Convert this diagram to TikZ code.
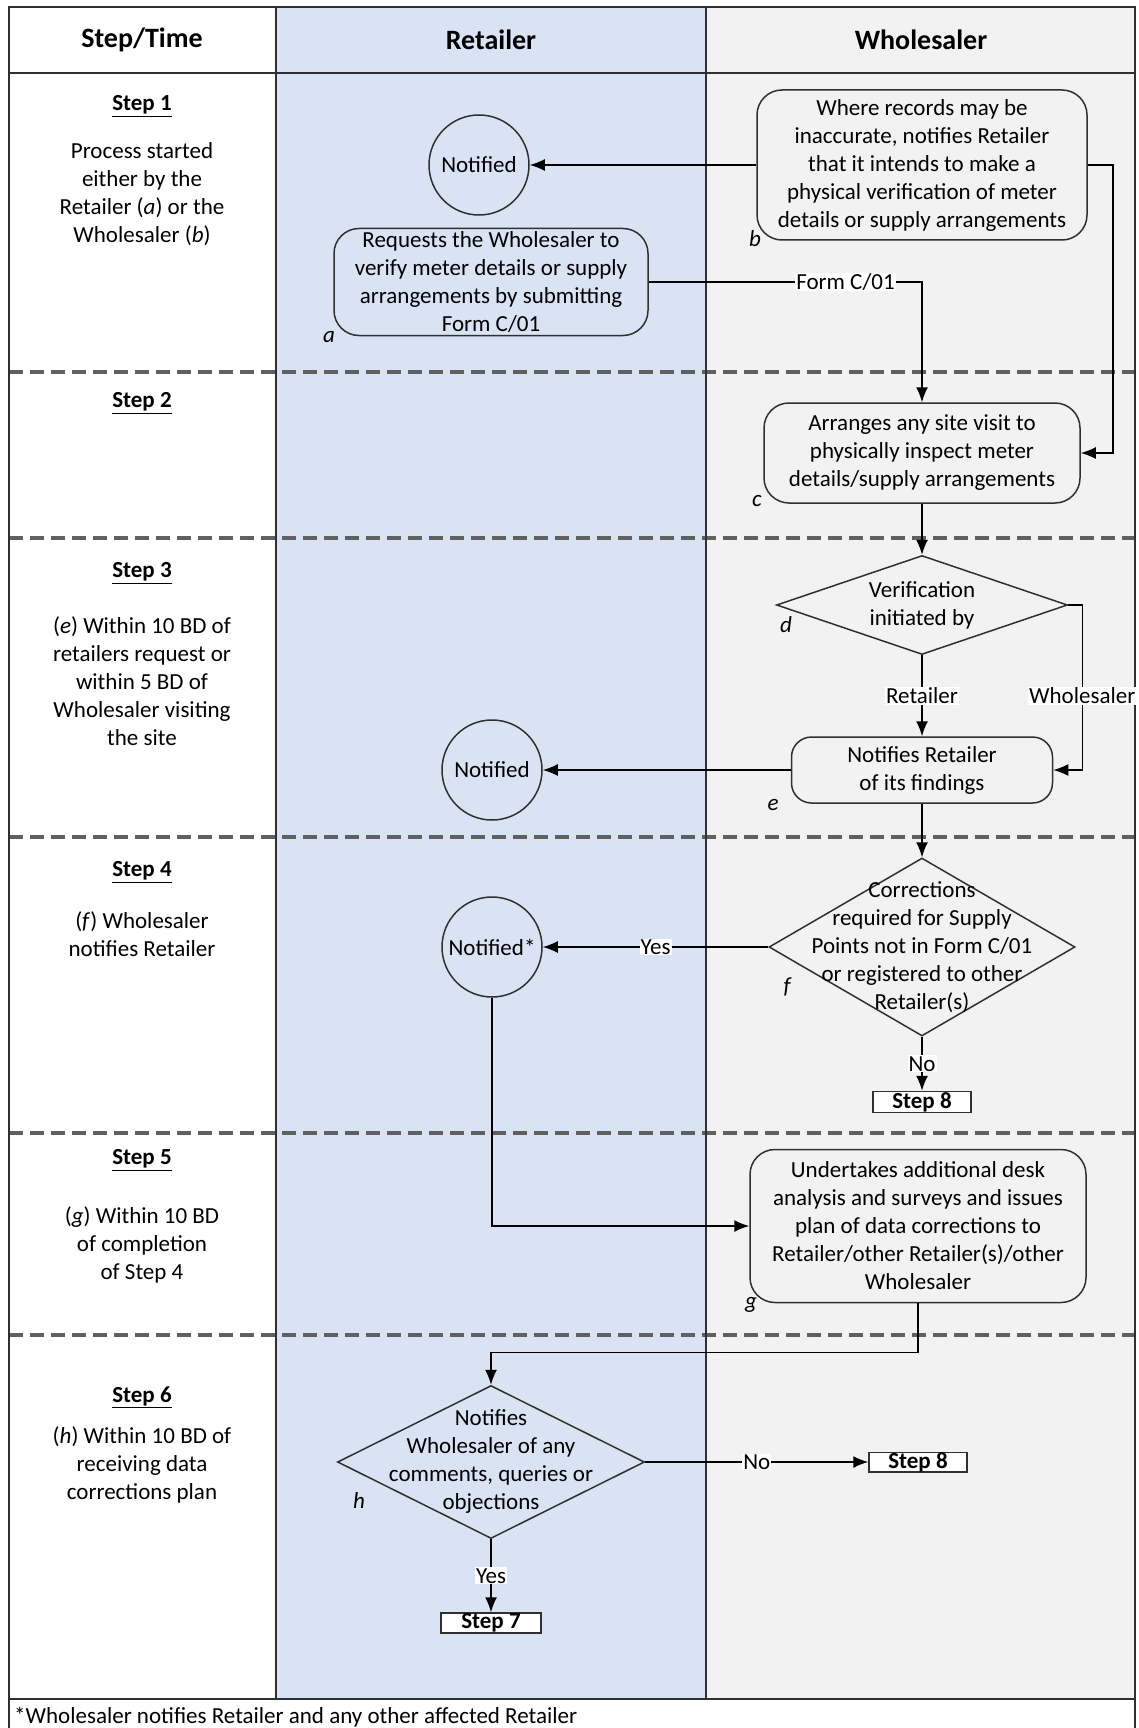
\documentclass[tikz,border=0pt]{standalone}
\usepackage{fontspec}
\setmainfont{Carlito}
\usepackage{tikz}
\usetikzlibrary{arrows.meta,shapes.geometric}

\definecolor{retailblue}{HTML}{DAE3F3}
\definecolor{wholegrey}{HTML}{F2F2F2}
\definecolor{rulegrey}{HTML}{303030}
\definecolor{dashgrey}{HTML}{606060}

\begin{document}
\begin{tikzpicture}[x=1pt, y=-1pt,
    every node/.style={font=\fontsize{23}{28}\selectfont, inner sep=0pt},
    proc/.style={draw=rulegrey, line width=1.5pt, rounded corners=25pt, align=center},
    note/.style={draw=rulegrey, line width=1.5pt, circle, minimum size=100pt},
    decide/.style={draw=rulegrey, line width=1.5pt, diamond},
    stepbox/.style={draw=rulegrey, fill=white, line width=1.5pt, minimum width=98pt,
      minimum height=21pt, font=\fontsize{23}{28}\selectfont\bfseries},
    tag/.style={font=\fontsize{23}{28}\selectfont\itshape},
    lbl/.style={fill=white, inner sep=1pt},
    title/.style={font=\fontsize{23}{28}\selectfont\bfseries},
    head/.style={font=\fontsize{28}{34}\selectfont\bfseries},
    lane/.style={dashgrey, line width=3.5pt, dash pattern=on 14pt off 7pt},
    flow/.style={line width=1.5pt, -{Latex[length=15pt, width=12pt]}}]
    \useasboundingbox (0,0) rectangle (1138,1728);
    % swim lanes
    \fill[retailblue] (276,7) rectangle (706,1699);
    \fill[wholegrey] (706,7) rectangle (1135,1699);
    \foreach \y in {372,538,837,1133,1335}
      \draw[lane] (9,\y) -- (1135,\y);
    \draw[rulegrey, line width=2pt] (9,1728) -- (9,7) -- (1135,7) -- (1135,1728)
      (9,73) -- (1135,73) (9,1699) -- (1135,1699)
      (276,7) -- (276,1699) (706,7) -- (706,1699);

    \node[head] (hstep) at (142,40) {Step/Time};
    \node[head] (hret) at (491,40) {Retailer};
    \node[head] (hwho) at (921,40) {Wholesaler};

    % step column
    \foreach \n/\y in {1/106,2/403,3/573,4/872,5/1160,6/1397}
      \node[title] (t\n) at (142,\y) {\underline{Step \n}};
    \node[align=center] (d1) at (142,194) {Process started\\either by the\\Retailer (\textit{a}) or the\\Wholesaler (\textit{b})};
    \node[align=center] (d3) at (142,681) {(\textit{e}) Within 10 BD of\\retailers request or\\within 5 BD of\\Wholesaler visiting\\the site};
    \node[align=center] (d4) at (142,934) {(\textit{f}) Wholesaler\\notifies Retailer};
    \node[align=center] (d5) at (142,1245) {(\textit{g}) Within 10 BD\\of completion\\of Step 4};
    \node[align=center] (d6) at (142,1465) {(\textit{h}) Within 10 BD of\\receiving data\\corrections plan};

    % flow nodes
    \node[proc, minimum width=330pt, minimum height=150pt] (nb) at (922,165)
      {Where records may be\\inaccurate, notifies Retailer\\that it intends to make a\\physical verification of meter\\details or supply arrangements};
    \node[note] (n1) at (479,165) {Notified};
    \node[proc, minimum width=314pt, minimum height=107pt] (na) at (491,282)
      {Requests the Wholesaler to\\verify meter details or supply\\arrangements by submitting\\Form C/01};
    \node[proc, minimum width=316pt, minimum height=100pt] (nc) at (922,453)
      {Arranges any site visit to\\physically inspect meter\\details/supply arrangements};
    \node[decide, minimum width=291pt, minimum height=99pt] (nd) at (922,605) {};
    \node[align=center] (ndt) at (nd) {Verification\\initiated by};
    \node[proc, rounded corners=20pt, minimum width=261pt, minimum height=66pt] (ne) at (922,770)
      {Notifies Retailer\\of its findings};
    \node[note] (n2) at (492,770) {Notified};
    \node[decide, minimum width=306pt, minimum height=178pt] (nf) at (922,947) {};
    \node[align=center] (nft) at (nf) {Corrections\\required for Supply\\Points not in Form C/01\\or registered to other\\Retailer(s)};
    \node[note] (n3) at (492,947) {Notified*};
    \node[stepbox] (s8a) at (922,1102) {Step 8};
    \node[proc, minimum width=336pt, minimum height=153pt] (ng) at (918,1226)
      {Undertakes additional desk\\analysis and surveys and issues\\plan of data corrections to\\Retailer/other Retailer(s)/other\\Wholesaler};
    \node[decide, minimum width=307pt, minimum height=153pt] (nh) at (491,1462) {};
    \node[align=center] (nht) at (nh) {Notifies\\Wholesaler of any\\comments, queries or\\objections};
    \node[stepbox, minimum height=19pt] (s8b) at (918,1462) {Step 8};
    \node[stepbox, minimum width=100pt, minimum height=20pt] (s7) at (491,1623) {Step 7};

    % letters
    \node[tag] (lb) at (755,239) {b};
    \node[tag] (la) at (329,337) {a};
    \node[tag] (lc) at (757,501) {c};
    \node[tag] (ld) at (786,625) {d};
    \node[tag] (le) at (773,805) {e};
    \node[tag] (lf) at (787,987) {f};
    \node[tag] (lg) at (751,1305) {g};
    \node[tag] (lh) at (359,1500) {h};

    % connectors
    \draw[flow] (nb.west) -- (n1.east);
    \draw[flow] (na.east) -| node[lbl, pos=0.36] (lform) {Form C/01} (nc.north);
    \draw[flow] (nb.east) -- ++(25,0) |- (nc.east);
    \draw[flow] (nc.south) -- (nd.north);
    \draw[flow] (nd.south) -- node[lbl] (lret) {Retailer} (ne.north);
    \draw[flow] (nd.east) -- ++(14,0) |- node[lbl, pos=0.275] (lwho) {Wholesaler} (ne.east);
    \draw[flow] (ne.west) -- (n2.east);
    \draw[flow] (ne.south) -- (nf.north);
    \draw[flow] (nf.west) -- node[lbl] (lyes1) {Yes} (n3.east);
    \draw[flow] (nf.south) -- node[lbl] (lno1) {No} (s8a.north);
    \draw[flow] (n3.south) |- (ng.west);
    \draw[flow] (ng.south) -- ++(0,49) -| (nh.north);
    \draw[flow] (nh.east) -- node[lbl] (lno2) {No} (s8b.west);
    \draw[flow] (nh.south) -- node[lbl] (lyes2) {Yes} (s7.north);

    \node[anchor=west] (foot) at (14,1717) {*Wholesaler notifies Retailer and any other affected Retailer};
\end{tikzpicture}
\end{document}
